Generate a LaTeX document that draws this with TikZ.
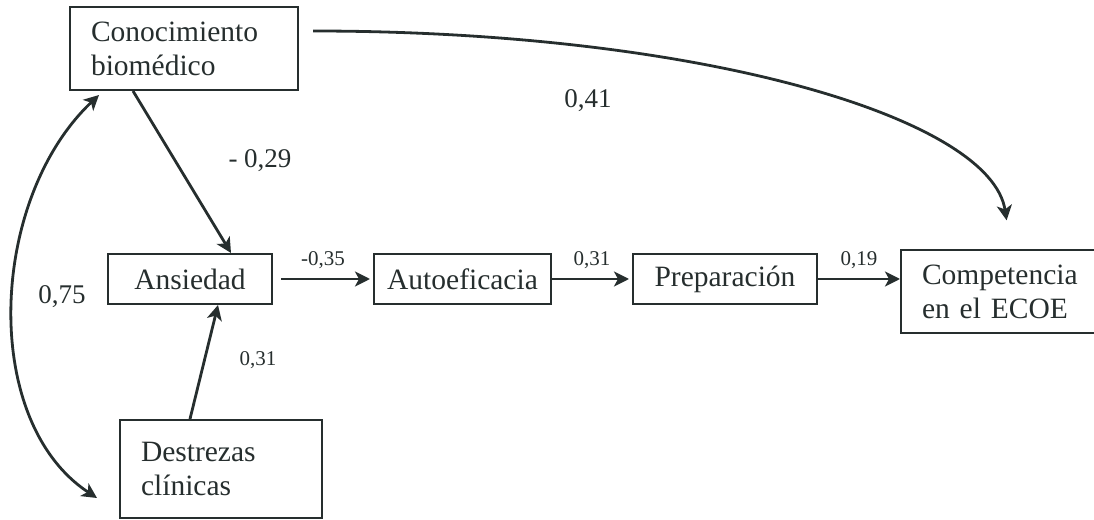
\documentclass[tikz,border=0pt]{standalone}
\usepackage{fontspec}
\setmainfont{Liberation Serif}
\usetikzlibrary{positioning, arrows.meta}
\definecolor{ink}{RGB}{38,46,46}
\tikzstyle{block}=[draw,rectangle,line width=2pt,font=\fontsize{29.5}{34}\selectfont,minimum height=50pt,inner xsep=4pt]
\tikzstyle{tblock}=[block,align=left,inner xsep=21pt]
\tikzstyle{big}=[font=\fontsize{27}{30}\selectfont,inner sep=2pt]
\tikzstyle{small}=[font=\fontsize{21}{24}\selectfont,inner sep=2pt]

\begin{document}
\begin{tikzpicture}[x=1pt,y=1pt,color=ink,line width=2.8pt,>={Stealth[length=15pt,width=15pt,inset=4pt]}]
            \useasboundingbox (0,0) rectangle (1094,519);
            \node[block, minimum width=164pt] (ansi) at (190,240) {Ansiedad};
            \node[block, minimum width=177pt, right=100pt of ansi] (auto) {Autoeficacia};
            \node[block, minimum width=184pt, right=80pt of auto] (prep) {Preparación};
            \node[tblock, text width=164pt, minimum height=83pt, right=82pt of prep, yshift=-12.5pt] (comp) {Competencia\\en el ECOE};
            \node[tblock, text width=186pt, minimum height=83pt, above=162pt of ansi, xshift=-6pt] (cono) {Conocimiento\\biomédico};
            \node[tblock, text width=160pt, minimum height=98pt, below=114pt of ansi, xshift=31pt] (dest) {Destrezas\\clínicas};
            \node[big] (l041) at (588,418) {0,41};
            \node[big] (l029) at (260,358) {- 0,29};
            \node[big] (l075) at (62,222) {0,75};
            \node[small] (l031) at (258,159) {0,31};
            \draw[->] ([xshift=-51pt]cono.south) -- ([xshift=41pt]ansi.north);
            \draw[->] ([xshift=-31pt]dest.north) -- ([xshift=28pt]ansi.south);
            \draw[->, shorten <=8pt, shorten >=3pt] (ansi) -- node[above=7pt, small] (l035) {-0,35} (auto);
            \draw[->, shorten >=3pt] (auto) -- node[above=7pt, small] (l031b) {0,31} (prep);
            \draw[->] (prep.east) -- node[above=7pt, small] (l019) {0,19} (prep.east -| comp.west);
            \draw[->, shorten <=14pt, shorten >=29pt] ([yshift=17.5pt]cono.east) .. controls +(402,0) and +(-20,131) .. ([xshift=7pt]comp.north);
            \draw[<->] ([xshift=30pt, yshift=-4pt]cono.south west) .. controls +(-110,-104) and +(-117,77) .. ([xshift=-22pt, yshift=-29pt]dest.west);
        \end{tikzpicture}
\end{document}
